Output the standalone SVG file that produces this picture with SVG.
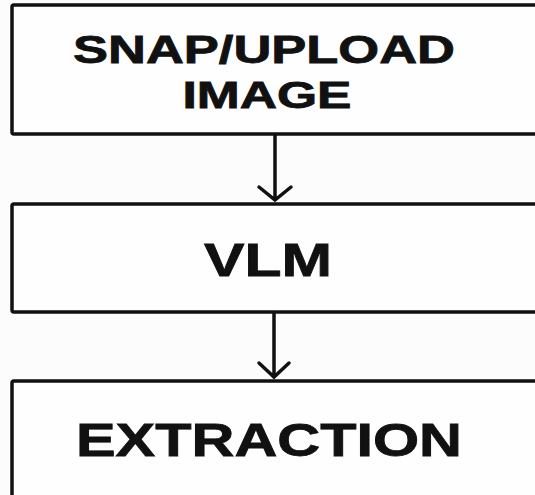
<svg xmlns="http://www.w3.org/2000/svg" width="535" height="495" viewBox="0 0 535 495">
<style>
.box{fill:#fefefe;stroke:#111;stroke-width:3.5}
.lbl{font-family:"Liberation Sans",Arial,sans-serif;font-weight:bold;fill:#111;stroke:#111;stroke-width:0.8;text-anchor:middle}
.conn{fill:none;stroke:#111;stroke-width:3.5;stroke-linecap:round;stroke-linejoin:miter}
</style>
<rect width="535" height="495" fill="#fcfcfc"/>
<g id="node-snap">
<rect class="box" x="12" y="5" width="540" height="129" rx="2"/>
<text class="lbl" x="264" y="63" font-size="39" textLength="382" lengthAdjust="spacingAndGlyphs">SNAP/UPLOAD</text>
<text class="lbl" x="267" y="108" font-size="37" textLength="169" lengthAdjust="spacingAndGlyphs">IMAGE</text>
</g>
<g id="node-vlm">
<rect class="box" x="12" y="204" width="540" height="108" rx="2"/>
<text class="lbl" x="268" y="276" font-size="47" textLength="128" lengthAdjust="spacingAndGlyphs">VLM</text>
</g>
<g id="node-extraction">
<rect class="box" x="12" y="381" width="540" height="130" rx="2"/>
<text class="lbl" x="269" y="456" font-size="47" textLength="386" lengthAdjust="spacingAndGlyphs">EXTRACTION</text>
</g>
<g id="connectors">
<path class="conn" d="M275 135 V199 M259 187 L275 200 L291 187"/>
<path class="conn" d="M274 313 V376 M259 363 L274 377 L289 363"/>
</g>
</svg>
